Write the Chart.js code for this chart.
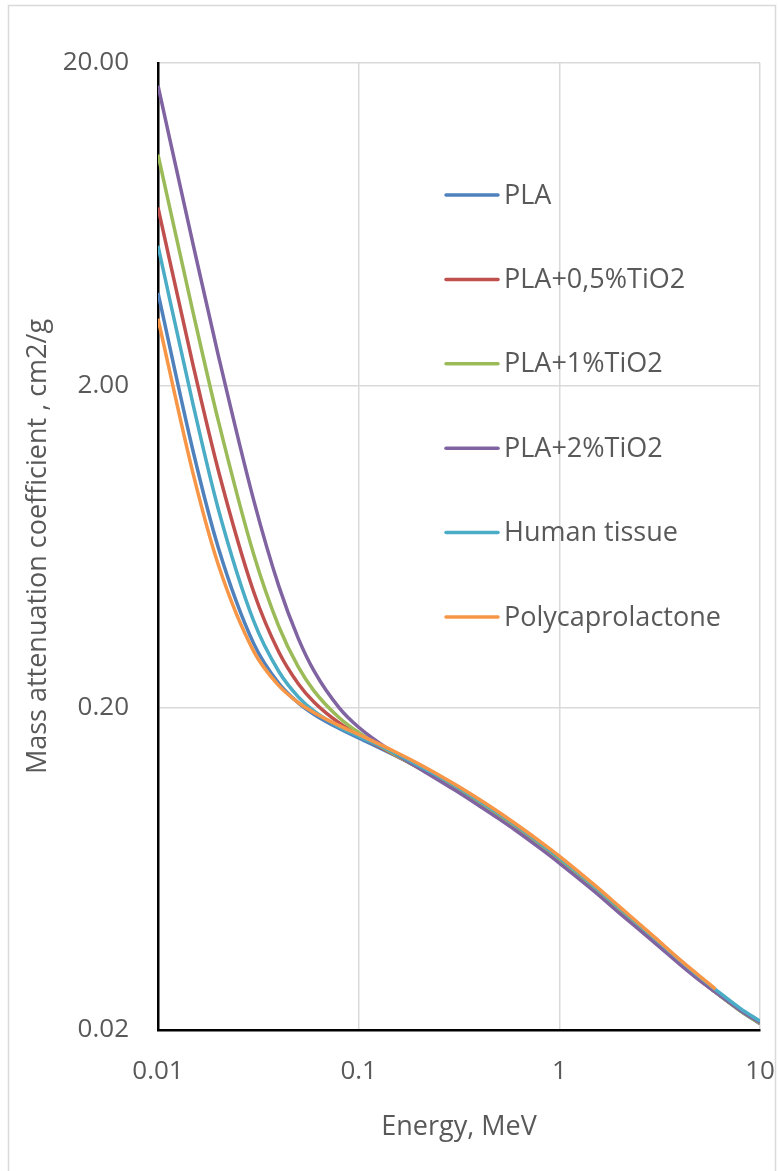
<!DOCTYPE html>
<html>
<head>
<meta charset="utf-8">
<script src="https://cdn.jsdelivr.net/npm/chart.js@4.4.0/dist/chart.umd.min.js"></script>
<style>
  html, body { margin: 0; padding: 0; background: #fff; }
  #wrap { width: 779px; height: 1171px; position: relative; }
</style>
</head>
<body>
<div id="wrap"><canvas id="chart"></canvas></div>
<script>
// photon energy, MeV
const energies = [0.01, 0.015, 0.02, 0.03, 0.04, 0.05, 0.06, 0.08, 0.1, 0.15, 0.2, 0.3, 0.4,
  0.5, 0.6, 0.8, 1, 1.5, 2, 3, 4, 5, 6, 8, 10];

// mass attenuation coefficient, cm2/g
const pla = [3.87, 1.240, 0.626, 0.316, 0.238, 0.207, 0.1906, 0.1723, 0.1611, 0.1426, 0.1300, 0.1126, 0.1008,
  0.0920, 0.0851, 0.0747, 0.0672, 0.0547, 0.0469, 0.0377, 0.0323, 0.0287, 0.0262, 0.0229, 0.0209];
const pla05 = [7.12, 2.290, 1.087, 0.457, 0.2976, 0.2373, 0.2079, 0.1792, 0.1643, 0.1432, 0.1299, 0.1123, 0.1004,
  0.0916, 0.0847, 0.0744, 0.0668, 0.0545, 0.0467, 0.0375, 0.0322, 0.0287, 0.0262, 0.0230, 0.0210];
const pla1 = [10.4, 3.339, 1.548, 0.597, 0.3572, 0.2675, 0.2251, 0.1861, 0.1675, 0.1436, 0.1298, 0.1118, 0.1000,
  0.0912, 0.0843, 0.0740, 0.0666, 0.0541, 0.0465, 0.0374, 0.0321, 0.0286, 0.0262, 0.0229, 0.0210];
const pla2 = [17.0, 5.438, 2.470, 0.879, 0.4764, 0.3281, 0.2596, 0.1998, 0.1739, 0.1448, 0.1297, 0.1112, 0.0991,
  0.0904, 0.0836, 0.0733, 0.0659, 0.0537, 0.0460, 0.0372, 0.0319, 0.0285, 0.0262, 0.0230, 0.0211];
const tissue = [5.42, 1.730, 0.824, 0.371, 0.259, 0.216, 0.195, 0.174, 0.163, 0.145, 0.132, 0.115, 0.1027,
  0.0938, 0.0867, 0.0762, 0.0685, 0.0557, 0.0478, 0.0384, 0.0329, 0.0292, 0.0267, 0.0233, 0.0213];
const pcl = [3.22, 1.057, 0.554, 0.299, 0.2341, 0.2075, 0.1930, 0.1760, 0.1651, 0.1465, 0.1337, 0.1159, 0.1038,
  0.0948, 0.0876, 0.0770, 0.0693, 0.0563, 0.0482, 0.0387, 0.0330, 0.0294, 0.0268, null, null];

const seriesNames = ['PLA', 'PLA+0,5%TiO2', 'PLA+1%TiO2', 'PLA+2%TiO2', 'Human tissue', 'Polycaprolactone'];
const seriesValues = [pla, pla05, pla1, pla2, tissue, pcl];
const seriesColors = ['#4F81BD', '#C0504D', '#9BBB59', '#8064A2', '#4BACC6', '#F79646'];

const xTicks = [0.01, 0.1, 1, 10];
const yTicks = [0.02, 0.2, 2, 20];

const FONT = "'Open Sans', 'Noto Sans', sans-serif";
const TEXT = '#595959';

const datasets = seriesNames.map((name, i) => ({
  label: name,
  data: energies.map((e, j) => ({ x: e, y: seriesValues[i][j] })),
  borderColor: seriesColors[i],
  backgroundColor: seriesColors[i],
  borderWidth: 3.5,
  pointRadius: 0,
  cubicInterpolationMode: 'monotone',
  fill: false,
  order: seriesNames.length - i   // later series drawn on top, like Excel
}));

// chart frame + legend inside the plot
const decor = {
  id: 'decor',
  beforeDraw(chart) {
    const ctx = chart.ctx;
    ctx.save();
    ctx.fillStyle = '#fff';
    ctx.fillRect(0, 0, chart.width, chart.height);
    ctx.strokeStyle = '#d9d9d9';
    ctx.lineWidth = 1.5;
    ctx.strokeRect(8.5, 5.5, 767, 1200);
    ctx.restore();
  },
  afterDatasetsDraw(chart) {
    const ctx = chart.ctx;
    ctx.save();
    ctx.font = '27px ' + FONT;
    ctx.textBaseline = 'middle';
    ctx.lineCap = 'round';
    chart.data.datasets.forEach((ds, i) => {
      const y = 195 + i * 84.4;
      ctx.strokeStyle = ds.borderColor;
      ctx.lineWidth = 3.5;
      ctx.beginPath();
      ctx.moveTo(446, y);
      ctx.lineTo(498, y);
      ctx.stroke();
      ctx.fillStyle = TEXT;
      ctx.fillText(ds.label, 504, y + 1);
    });
    ctx.restore();
  }
};

new Chart(document.getElementById('chart'), {
  type: 'line',
  data: { datasets },
  plugins: [decor],
  options: {
    responsive: true,
    maintainAspectRatio: false,
    animation: false,
    layout: { padding: { top: 63, right: 19, left: 0, bottom: 0 } },
    plugins: {
      legend: { display: false },
      tooltip: { enabled: false }
    },
    scales: {
      x: {
        type: 'logarithmic',
        min: 0.01,
        max: 10,
        afterBuildTicks: scale => { scale.ticks = xTicks.map(v => ({ value: v })); },
        afterFit: scale => {
          scale.height = 141;
          scale.paddingLeft = 0;
          scale.paddingRight = 0;
        },
        ticks: {
          autoSkip: false,
          maxRotation: 0,
          padding: 26,
          color: TEXT,
          font: { family: FONT, size: 26 },
          callback: v => String(v)
        },
        grid: { color: '#d9d9d9', lineWidth: 1.5, drawTicks: false },
        border: { color: '#000', width: 2.5 },
        title: {
          display: true,
          text: 'Energy, MeV',
          color: TEXT,
          font: { family: FONT, size: 27 },
          padding: { top: 0, bottom: 27 }
        }
      },
      y: {
        type: 'logarithmic',
        min: 0.02,
        max: 20,
        afterBuildTicks: scale => { scale.ticks = yTicks.map(v => ({ value: v })); },
        afterFit: scale => { scale.width = 158; },
        ticks: {
          autoSkip: false,
          padding: 29,
          color: TEXT,
          font: { family: FONT, size: 26 },
          callback: v => Number(v).toFixed(2)
        },
        grid: { color: '#d9d9d9', lineWidth: 1.5, drawTicks: false },
        border: { color: '#000', width: 2.5 },
        title: {
          display: true,
          text: 'Mass attenuation coefficient , cm2/g',
          color: TEXT,
          font: { family: FONT, size: 27 },
          padding: { top: 22, bottom: 0 }
        }
      }
    }
  }
});
</script>
</body>
</html>
